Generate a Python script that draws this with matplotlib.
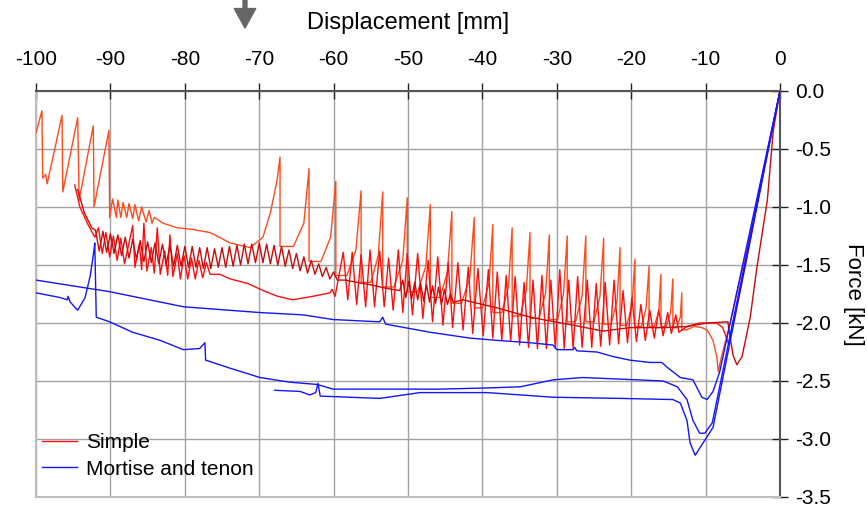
import numpy as np
import matplotlib
matplotlib.use("Agg")
import matplotlib.pyplot as plt

plt.rcParams['font.family'] = ['Liberation Sans', 'DejaVu Sans']
plt.rcParams['axes.unicode_minus'] = False

# ---- Simple joint, specimen A (orange) ----
sa_start_x = [-100.0, -99.2, -99.1, -98.7, -98.5, -96.5, -96.4, -94.4, -94.2, -92.3, -92.2, -90.2, -90.1,
              -89.7, -89.2, -89.0, -88.6, -88.3, -87.8, -87.5, -87.0, -86.7, -86.2, -85.8, -85.2, -84.8,
              -84.4, -84.1, -82.9, -81.0, -79.3, -76.6, -73.9, -71.2, -69.5, -68.5, -67.6]
sa_start_f = [-0.36, -0.17, -0.75, -0.72, -0.80, -0.21, -0.87, -0.23, -0.94, -0.30, -1.00, -0.34, -1.09,
              -0.93, -1.09, -0.94, -1.09, -0.96, -1.09, -0.97, -1.10, -0.98, -1.12, -1.00, -1.13, -1.03,
              -1.14, -1.09, -1.14, -1.18, -1.19, -1.22, -1.31, -1.35, -1.26, -1.05, -0.77]
sa_peak_x = [-67.2, -63.3, -59.7, -56.3, -53.4, -50.1, -47.0, -44.1, -41.1, -38.6, -36.0, -33.6, -31.0,
             -28.6, -26.1, -23.7, -21.5, -19.5, -17.6, -16.0, -14.4, -13.2]
sa_peak_f = [-0.57, -0.67, -0.78, -0.86, -0.87, -0.92, -0.98, -1.04, -1.09, -1.15, -1.18, -1.22, -1.24,
             -1.25, -1.25, -1.27, -1.35, -1.45, -1.51, -1.58, -1.62, -1.74]
# bend in each climb, so the rise steepens towards the peak
sa_knee_x = [None, -64.0, -60.4, -57.0, -54.0, -50.7, -47.6, -44.7, -41.7, -39.1, -36.5, -34.1, -31.5,
             -29.1, -26.6, -24.2, -21.9, -19.9, -18.0, -16.3, -14.7, -13.4]
sa_knee_f = [None, -1.14, -1.26, -1.37, -1.42, -1.46, -1.51, -1.56, -1.61, -1.65, -1.69, -1.72, -1.74,
             -1.75, -1.77, -1.77, -1.81, -1.85, -1.87, -1.90, -1.91, -1.95]
sa_trough_x = [-65.4, -61.7, -58.2, -55.0, -51.9, -48.7, -45.7, -42.8, -40.0, -37.4, -34.9, -32.4, -29.9,
               -27.5, -25.0, -22.7, -20.6, -18.6, -16.9, -15.3, -13.9, -12.6]
sa_trough_f = [-1.34, -1.47, -1.59, -1.65, -1.69, -1.73, -1.78, -1.83, -1.87, -1.91, -1.94, -1.96, -1.97,
               -1.99, -1.99, -2.01, -2.02, -2.03, -2.03, -2.03, -2.04, -2.06]
sa_end_x = [-11.5, -10.5, -9.8, -9.0, -8.5, -8.3, -7.9, -6.7, -4.4, -3.1, -1.6, 0.0]
sa_end_f = [-2.03, -2.04, -2.06, -2.15, -2.29, -2.42, -2.30, -2.00, -1.35, -0.98, -0.50, 0.0]

# ---- Simple joint, specimen B (red) ----
sb_start_x = [-94.8, -94.1, -93.1, -92.1, -91.6, -91.1, -90.6, -90.1, -89.6, -89.1, -88.6, -88.1, -87.0,
              -86.7, -86.1, -85.8, -85.5, -85.1, -84.5, -84.1, -83.7, -83.3, -82.7, -82.3, -82.0, -81.6,
              -81.0, -80.6, -80.1, -79.6, -79.1, -78.6, -78.1, -77.6, -77.1, -76.6, -75.3, -73.9, -71.5,
              -69.5, -67.5, -65.5, -62.8, -60.5, -60.2, -59.8]
sb_start_f = [-0.81, -1.00, -1.14, -1.26, -1.18, -1.40, -1.22, -1.43, -1.25, -1.46, -1.27, -1.49, -1.16,
              -1.52, -1.32, -1.54, -1.14, -1.55, -1.35, -1.57, -1.18, -1.58, -1.38, -1.59, -1.24, -1.60,
              -1.40, -1.62, -1.42, -1.62, -1.44, -1.62, -1.46, -1.61, -1.48, -1.58, -1.58, -1.62, -1.66,
              -1.72, -1.77, -1.80, -1.77, -1.74, -1.71, -1.77]
sb_peak_x = [-58.7, -57.5, -56.3, -55.1, -53.8, -52.6, -51.3, -50.1, -48.7, -47.3, -46.0, -44.6, -43.3,
             -41.9, -40.6, -39.2, -38.0, -36.8, -35.6, -34.4, -33.2, -32.0, -30.8, -29.6, -28.4, -27.2,
             -25.9, -24.7, -23.5, -22.3, -21.1, -19.9, -18.7, -17.5, -16.3, -15.1, -14.0]
sb_peak_f = [-1.39, -1.39, -1.41, -1.37, -1.38, -1.44, -1.37, -1.40, -1.40, -1.46, -1.43, -1.48, -1.48,
             -1.52, -1.53, -1.54, -1.56, -1.59, -1.60, -1.65, -1.63, -1.59, -1.63, -1.54, -1.63, -1.60,
             -1.63, -1.66, -1.65, -1.63, -1.72, -1.78, -1.84, -1.89, -1.89, -1.91, -1.93]
sb_trough_x = [-58.1, -56.9, -55.7, -54.5, -53.2, -52.0, -50.7, -49.4, -48.0, -46.7, -45.3, -44.0, -42.6,
               -41.3, -39.9, -38.6, -37.4, -36.2, -35.0, -33.8, -32.6, -31.4, -30.2, -29.0, -27.8, -26.6,
               -25.3, -24.1, -22.9, -21.7, -20.5, -19.3, -18.1, -16.9, -15.7, -14.6]
sb_trough_f = [-1.80, -1.84, -1.86, -1.86, -1.86, -1.89, -1.91, -1.93, -1.96, -1.99, -2.02, -2.04, -2.06,
               -2.09, -2.11, -2.13, -2.15, -2.16, -2.19, -2.21, -2.22, -2.22, -2.22, -2.22, -2.22, -2.21,
               -2.21, -2.20, -2.19, -2.18, -2.17, -2.16, -2.15, -2.13, -2.11, -2.09]
sb_end_x = [-13.6, -12.5, -10.8, -8.5, -7.7, -6.9, -4.5, -2.2, 0.0]
sb_end_f = [-2.08, -2.03, -2.00, -2.00, -2.04, -2.18, -1.45, -0.68, 0.0]

# ---- Simple joint, specimen C (dark red) ----
sc_x = [-94.4, -93.5, -92.5,
        -92.0, -91.5, -91.0, -90.5, -90.0, -89.5, -89.0, -88.5, -88.0, -87.5, -87.0, -86.5, -86.0, -85.5,
        -85.0, -84.5, -84.0, -83.5, -83.0, -82.5, -82.0, -81.5, -81.0, -80.5, -80.0, -79.5, -79.0, -78.5,
        -78.0, -77.5, -77.0, -76.5, -76.0, -75.5, -75.0, -74.5, -74.0, -73.5, -73.0, -72.5, -72.0, -71.5,
        -71.0, -70.5, -70.0, -69.5, -69.0, -68.5, -68.0, -67.5, -67.0, -66.5, -66.0, -65.5, -65.0, -64.5,
        -64.0, -63.5, -63.0, -62.5, -62.0, -61.5, -61.0, -60.5, -60.0, -59.5,
        -58.5, -55.1, -53.0, -51.1,
        -50.7, -50.3, -49.9, -49.5, -49.1, -48.7, -48.3, -47.9, -47.5, -47.1, -46.7, -46.3, -45.9, -45.5,
        -45.1, -44.7, -44.3, -43.9,
        -42.6, -38.0, -33.6, -26.9, -23.8, -20.2, -15.7, -12.5, -9.8, -7.0, -6.9, -6.3, -5.8, -5.1, -4.0,
        -3.1, -1.7, -0.9, 0.0]
sc_f = [-0.85, -1.05, -1.18,
        -1.20, -1.38, -1.21, -1.39, -1.23, -1.40, -1.24, -1.42, -1.26, -1.44, -1.28, -1.45, -1.29, -1.47,
        -1.30, -1.48, -1.31, -1.49, -1.32, -1.50, -1.33, -1.51, -1.33, -1.51, -1.34, -1.52, -1.34, -1.52,
        -1.35, -1.53, -1.35, -1.53, -1.36, -1.52, -1.35, -1.52, -1.34, -1.51, -1.33, -1.50, -1.32, -1.49,
        -1.32, -1.48, -1.31, -1.48, -1.32, -1.49, -1.33, -1.50, -1.34, -1.51, -1.37, -1.53, -1.40, -1.55,
        -1.43, -1.57, -1.46, -1.58, -1.49, -1.60, -1.52, -1.62, -1.56, -1.63,
        -1.63, -1.67, -1.70, -1.72,
        -1.63, -1.78, -1.64, -1.79, -1.65, -1.80, -1.66, -1.81, -1.67, -1.82, -1.68, -1.83, -1.69, -1.84,
        -1.71, -1.84, -1.75, -1.82,
        -1.80, -1.87, -1.95, -2.03, -2.07, -2.04, -2.04, -2.03, -2.00, -1.99, -2.04, -2.28, -2.36, -2.29,
        -1.95, -1.52, -0.94, -0.34, 0.0]

# ---- Mortise and tenon, three specimens (blue) ----
m1_x = [-100.0, -90.1, -80.2, -69.9, -64.1, -60.1, -53.8, -53.4, -53.0, -47.0, -41.7, -38.0, -33.6, -30.5,
        -30.0, -27.8, -27.6, -27.3, -24.6, -22.4, -20.2, -17.5, -15.9, -15.2, -13.4, -11.7, -10.5, -9.8,
        -9.0, -8.1, 0.0]
m1_f = [-1.63, -1.73, -1.86, -1.91, -1.93, -1.97, -1.99, -1.95, -2.01, -2.08, -2.13, -2.15, -2.17, -2.19,
        -2.23, -2.23, -2.21, -2.24, -2.25, -2.29, -2.32, -2.34, -2.34, -2.38, -2.47, -2.49, -2.64, -2.66,
        -2.59, -2.42, 0.0]
m2_x = [-100.0, -96.8, -95.8, -95.7, -95.4, -94.4, -93.4, -92.7, -92.2, -92.1, -91.9, -90.1, -87.0, -83.3,
        -80.2, -78.0, -77.3, -77.2, -73.9, -69.9, -65.9, -62.2, -60.1, -53.8, -45.7, -39.4, -34.9, -30.5,
        -26.5, -19.2, -15.7, -13.8, -12.5, -11.7, -10.8, -10.1, -9.1, 0.0]
m2_f = [-1.74, -1.78, -1.80, -1.77, -1.82, -1.89, -1.78, -1.59, -1.37, -1.31, -1.95, -1.99, -2.08, -2.15,
        -2.23, -2.22, -2.17, -2.32, -2.39, -2.47, -2.51, -2.53, -2.57, -2.57, -2.57, -2.56, -2.55, -2.49,
        -2.47, -2.49, -2.50, -2.55, -2.66, -2.84, -2.95, -2.95, -2.86, 0.0]
m3_x = [-67.9, -64.5, -63.2, -62.4, -62.1, -61.8, -53.8, -48.4, -39.4, -34.9, -30.5, -21.5, -14.4, -13.4,
        -12.5, -12.1, -11.4, -10.3, -9.0, 0.0]
m3_f = [-2.58, -2.59, -2.62, -2.60, -2.52, -2.63, -2.65, -2.60, -2.60, -2.62, -2.64, -2.65, -2.66, -2.69,
        -2.84, -3.03, -3.14, -3.03, -2.90, 0.0]

x_ticks = [-100, -90, -80, -70, -60, -50, -40, -30, -20, -10, 0]
y_ticks = [-3.5, -3.0, -2.5, -2.0, -1.5, -1.0, -0.5, 0.0]

C_ORANGE = '#ff4a1c'
C_RED = '#ff0d0d'
C_DARK = '#c80a0a'
C_BLUE = '#1414ff'


def teeth(start_x, start_f, peak_x, peak_f, trough_x, trough_f, end_x, end_f, drop=True,
          knee_x=None, knee_f=None):
    # chain of saw teeth: climb to a peak, snap down, run along the trough
    xs, fs = list(start_x), list(start_f)
    for i in range(len(peak_x)):
        if knee_x is not None and knee_x[i] is not None:
            xs.append(knee_x[i])
            fs.append(knee_f[i])
        xs.append(peak_x[i])
        fs.append(peak_f[i])
        if i < len(trough_x):
            if drop:
                xs.append(peak_x[i])
                fs.append(trough_f[i])
            xs.append(trough_x[i])
            fs.append(trough_f[i])
    return xs + list(end_x), fs + list(end_f)


fig = plt.figure(figsize=(8.67, 5.09), dpi=100)
ax = fig.add_axes([36 / 867, 12 / 509, 744 / 867, 406 / 509])

ax_x, ax_f = teeth(sa_start_x, sa_start_f, sa_peak_x, sa_peak_f, sa_trough_x, sa_trough_f, sa_end_x, sa_end_f,
                   knee_x=sa_knee_x, knee_f=sa_knee_f)
ax.plot(ax_x, ax_f, color=C_ORANGE, lw=1.0, zorder=3)

bx, bf = teeth(sb_start_x, sb_start_f, sb_peak_x, sb_peak_f, sb_trough_x, sb_trough_f, sb_end_x, sb_end_f,
               drop=False)
simple_line, = ax.plot(bx, bf, color=C_RED, lw=1.0, zorder=4)

ax.plot(sc_x, sc_f, color=C_DARK, lw=1.0, zorder=5)

mt_line, = ax.plot(m1_x, m1_f, color=C_BLUE, lw=1.0, zorder=6)
ax.plot(m2_x, m2_f, color=C_BLUE, lw=1.0, zorder=6)
ax.plot(m3_x, m3_f, color=C_BLUE, lw=1.0, zorder=6)

ax.set_xlim(-100, 0)
ax.set_ylim(-3.5, 0)
ax.xaxis.tick_top()
ax.xaxis.set_label_position('top')
ax.yaxis.tick_right()
ax.yaxis.set_label_position('right')
ax.set_xticks(x_ticks)
ax.set_xticklabels([str(t) for t in x_ticks])
ax.set_yticks(y_ticks)
ax.set_yticklabels(['%.1f' % t for t in y_ticks])
ax.tick_params(axis='both', direction='inout', length=12, width=1, color='#222222', labelsize=15)
ax.tick_params(axis='x', pad=10)
ax.tick_params(axis='y', pad=5)

ax.grid(True, color='#a3a3a3', lw=1.0)
ax.set_axisbelow(True)
for side in ['top', 'right']:
    ax.spines[side].set_color('#555555')
    ax.spines[side].set_linewidth(1.5)
for side in ['left', 'bottom']:
    ax.spines[side].set_color('#bdbdbd')
    ax.spines[side].set_linewidth(1.5)

ax.set_xlabel('Displacement [mm]', fontsize=17, labelpad=15)
ax.set_ylabel('Force [kN]', fontsize=16, rotation=270, ha='center', va='center')
ax.yaxis.set_label_coords((854 - 36) / 744, 0.5)

ax.legend([simple_line, mt_line], ['Simple', 'Mortise and tenon'], loc='lower left',
          bbox_to_anchor=(0.008, 0.045), frameon=False, fontsize=15, handlelength=1.7,
          handletextpad=0.4, labelspacing=0.38, borderaxespad=0.0, borderpad=0.0)

# marker arrow above the axis
ax.annotate('', xy=(245, 509 - 28), xycoords='figure pixels', xytext=(245, 509),
            textcoords='figure pixels',
            arrowprops=dict(arrowstyle='simple,head_length=1.0,head_width=1.1,tail_width=0.2',
                            color='#666666', mutation_scale=14, shrinkA=0, shrinkB=0))

fig.savefig('out.png', dpi=100)
